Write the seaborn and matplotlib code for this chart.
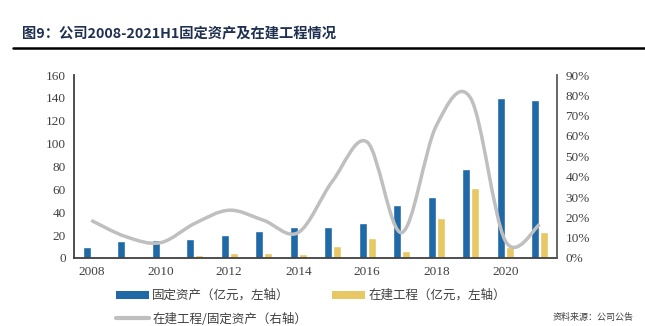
import numpy as np
import pandas as pd
import matplotlib
matplotlib.use("Agg")
import matplotlib.pyplot as plt
from matplotlib.path import Path
from matplotlib.patches import PathPatch, Patch
from matplotlib.lines import Line2D
import seaborn as sns

# ---------------- data ----------------
years = [str(y) for y in range(2008, 2022)]
fixed_assets = [10, 15, 16, 16.5, 20, 24, 27, 27, 31, 46.5, 53.5, 77.5, 139.5, 138]
construction = [1.8, 1.2, 0.9, 2.6, 4.7, 4.4, 3.5, 10.2, 17.8, 5.8, 35.3, 61, 9.7, 22.8]
ratio_pct = [18.5, 10.5, 7.5, 17, 23.5, 18.5, 12.5, 38, 57, 12.5, 65, 78.5, 8.5, 16.5]
left_ticks = [0, 20, 40, 60, 80, 100, 120, 140, 160]
right_ticks = [0, 10, 20, 30, 40, 50, 60, 70, 80, 90]
xtick_years = ["2008", "2010", "2012", "2014", "2016", "2018", "2020"]
name_fa = "固定资产（亿元，左轴）"
name_cip = "在建工程（亿元，左轴）"
name_ratio = "在建工程/固定资产（右轴）"
title = "图9：公司2008-2021H1固定资产及在建工程情况"
source = "资料来源：公司公告"

BLUE = "#1F69A6"
YELLOW = "#E7C865"
GRAY = "#BFBFBF"
TXT = "#404040"

sns.set_theme(style="white")
plt.rcParams['font.family'] = ['Noto Sans CJK SC', 'DejaVu Sans']

df = pd.DataFrame({
    "year": years * 2,
    "value": fixed_assets + construction,
    "series": [name_fa] * len(years) + [name_cip] * len(years),
})

fig = plt.figure(figsize=(6.45, 3.26), dpi=100)
ax = fig.add_axes([74/645, 1-258/326, (557-74)/645, (258-75)/326])

sns.barplot(data=df, x="year", y="value", hue="series", order=years,
            hue_order=[name_fa, name_cip], palette=[BLUE, YELLOW],
            width=0.52, gap=0.12, ax=ax, legend=False, saturation=1)

ax.set_xlim(-0.5, len(years) - 0.5)
ax.set_ylim(0, 160)
ax.set_yticks(left_ticks)
ax.set_yticklabels([str(t) for t in left_ticks], family="Liberation Serif",
                   fontsize=9.5, color=TXT)
ax.set_xticks([years.index(y) for y in xtick_years])
ax.set_xticklabels(xtick_years, family="Liberation Serif", fontsize=9.5, color=TXT)
ax.set_xlabel("")
ax.set_ylabel("")
ax.tick_params(length=0, pad=6)
for s in ["top", "right"]:
    ax.spines[s].set_visible(False)
for s in ["left", "bottom"]:
    ax.spines[s].set_color("#404040")
    ax.spines[s].set_linewidth(1.3)

# right axis with smoothed ratio line
ax2 = ax.twinx()
ax2.set_ylim(0, 90)
ax2.set_yticks(right_ticks)
ax2.set_yticklabels([f"{t}%" for t in right_ticks], family="Liberation Serif",
                    fontsize=9.5, color=TXT)
ax2.tick_params(length=0, pad=6)
for s in ["top", "left", "bottom"]:
    ax2.spines[s].set_visible(False)
ax2.spines["right"].set_color("#595959")
ax2.spines["right"].set_linewidth(1.3)

xs = np.arange(len(years), dtype=float)
ys = np.array(ratio_pct, dtype=float)
pts = np.column_stack([xs, ys])
verts = [tuple(pts[0])]
codes = [Path.MOVETO]
n = len(pts)
for i in range(n - 1):
    p0 = pts[i - 1] if i > 0 else pts[i]
    p1 = pts[i]
    p2 = pts[i + 1]
    p3 = pts[i + 2] if i + 2 < n else pts[i + 1]
    c1 = p1 + (p2 - p0) / 6.0
    c2 = p2 - (p3 - p1) / 6.0
    verts += [tuple(c1), tuple(c2), tuple(p2)]
    codes += [Path.CURVE4] * 3
patch = PathPatch(Path(verts, codes), facecolor="none", edgecolor=GRAY,
                  lw=2.5, capstyle="butt", transform=ax2.transData)
ax2.add_patch(patch)

# title and rule
fig.text(22/645, 1-33/326, title, fontsize=10.3, fontweight="bold",
         color="#1F3050", va="center", ha="left")
fig.add_artist(Line2D([13/645, 1.0], [1-48/326, 1-48/326], color="black",
                      lw=1.8, transform=fig.transFigure))

# legend
handles = [Patch(facecolor=BLUE, edgecolor="none"),
           Line2D([0], [0], color=GRAY, lw=3),
           Patch(facecolor=YELLOW, edgecolor="none")]
labels = [name_fa, name_ratio, name_cip]
fig.legend(handles, labels, ncol=2, loc="upper left",
           bbox_to_anchor=(116/645, 1-289/326), frameon=False,
           fontsize=9, handlelength=2.6, handleheight=0.6, handletextpad=0.3,
           columnspacing=2.0, labelspacing=0.85, borderaxespad=0, borderpad=0,
           labelcolor=TXT)

fig.text(553/645, 1-317/326, source, fontsize=6.5, color=TXT,
         va="center", ha="left")

fig.savefig("out.png", dpi=100)
